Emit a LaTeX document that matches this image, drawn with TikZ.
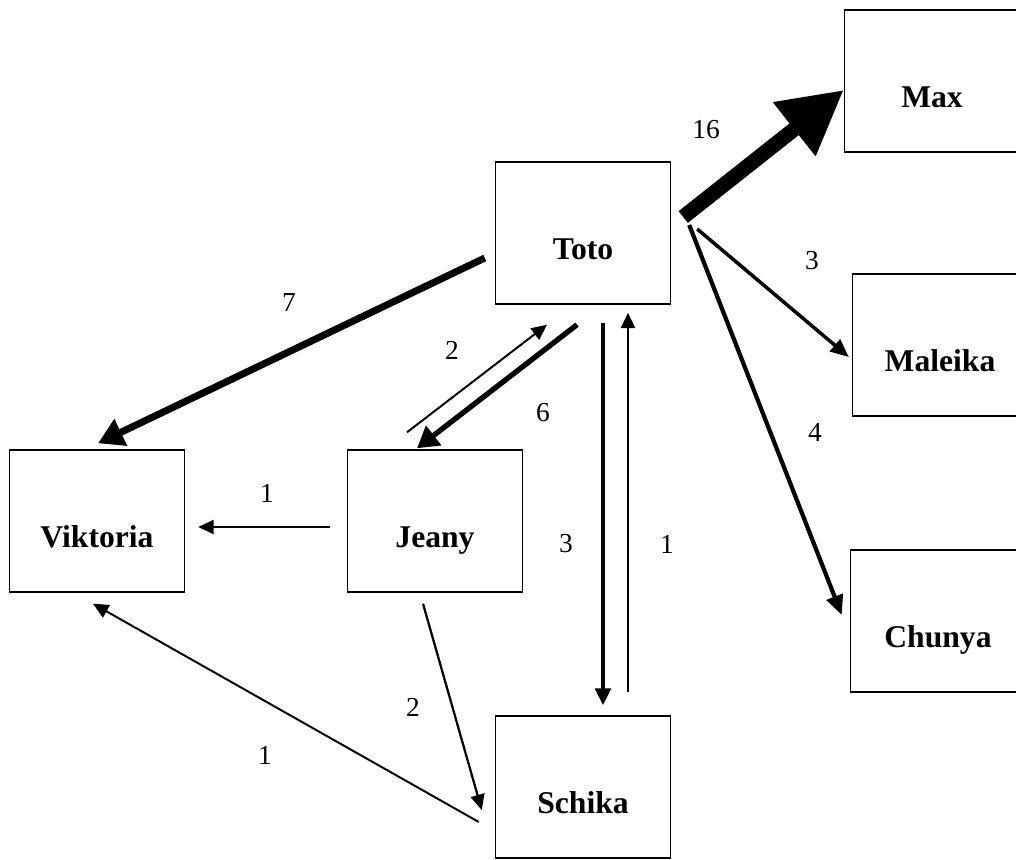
\documentclass[tikz,border=0pt]{standalone}
\usepackage{fontspec}
\setmainfont{Liberation Serif}
\usetikzlibrary{arrows.meta,calc}
\begin{document}
\begin{tikzpicture}[x=0.025cm,y=-0.025cm,
    person/.style={draw,line width=1pt,minimum width=4.375cm,minimum height=3.55cm,inner sep=0pt,
        text height=37pt,text depth=0pt,font=\fontsize{22.5}{26}\selectfont\bfseries},
    weight/.style={font=\fontsize{19.5}{23}\selectfont},
    flow/.style n args={3}{line width=#1,-{Triangle[length=#2,width=#3]}}]
    \useasboundingbox (0,0) rectangle (1016,859);

    % Persons
    \foreach \id/\x/\y/\txt in {max/932/81/Max, toto/583/233/Toto, maleika/940/345/Maleika,
        viktoria/97/521/Viktoria, jeany/435/521/Jeany, chunya/938/621/Chunya, schika/583/787/Schika} {
        \node[person] (\id) at (\x,\y) {\txt};
    }

    % Flows out of Toto
    \draw[flow={10.6pt}{45pt}{46pt}] ($(toto.east)+(12,-16)$) -- ($(max.west)+(0,9)$);
    \draw[flow={2.5pt}{13pt}{11pt}] ($(toto.east)+(26,-4)$) -- ($(maleika.west)+(-3,12)$);
    \draw[flow={3pt}{14pt}{12pt}] ($(toto.east)+(18,-8)$) -- ($(chunya.west)+(-8,-6)$);
    \draw[flow={5pt}{18pt}{20pt}] ($(toto.west)+(-10,25)$) -- ($(viktoria.north)+(1,-6)$);
    \draw[flow={3.8pt}{15pt}{17pt}] ($(toto.south)+(-6,20)$) -- ($(jeany.north)+(-18,-1)$);
    \draw[flow={2.8pt}{12pt}{11pt}] ($(toto.south)+(20,18)$) -- ($(schika.north)+(20,-10)$);

    % Other flows
    \draw[flow={1.4pt}{11pt}{10pt}] ($(jeany.north)+(-28,-17)$) -- ($(toto.south)+(-36,20)$);
    \draw[flow={1.4pt}{11pt}{10pt}] ($(jeany.west)+(-17,6)$) -- ($(viktoria.east)+(13,6)$);
    \draw[flow={1.6pt}{11pt}{10pt}] ($(schika.north)+(45,-23)$) -- ($(toto.south)+(45,8)$);
    \draw[flow={1.6pt}{11pt}{10pt}] ($(jeany.south)+(-12,11)$) -- ($(schika.west)+(-13,23)$);
    \draw[flow={1.4pt}{11pt}{10pt}] ($(schika.west)+(-16,35)$) -- ($(viktoria.south)+(-4,11)$);

    % Weights
    \foreach \id/\x/\y/\w in {wmax/706/130/16, wmaleika/812/261/3, wchunya/815/432/4,
        wviktoria/289/303/7, wback/452/350/2, wjeany/543/413/6, wjv/267/493/1,
        wdown/566/544/3, wup/667/544/1, wjs/413/707/2, wsv/265/755/1} {
        \node[weight] (\id) at (\x,\y) {\w};
    }
\end{tikzpicture}
\end{document}
